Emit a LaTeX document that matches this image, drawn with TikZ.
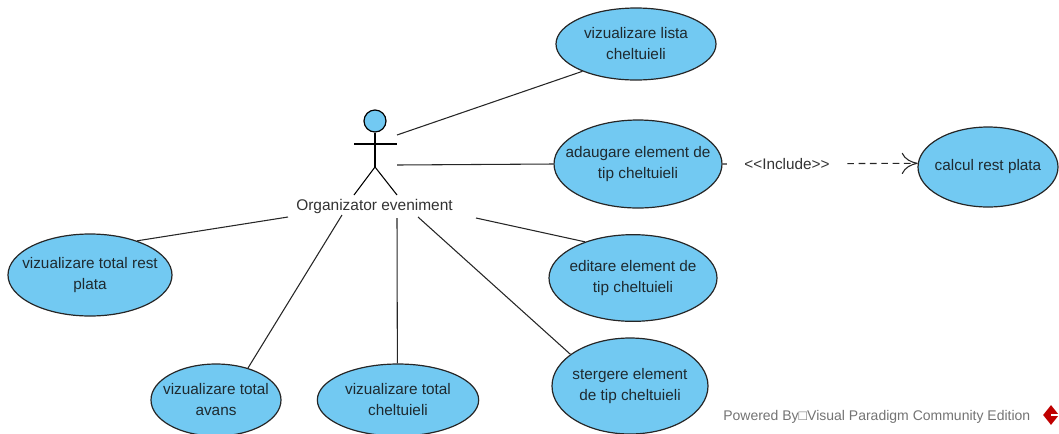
\documentclass[tikz,border=0pt]{standalone}
\usepackage{fontspec}
\setmainfont{Liberation Sans}
\usetikzlibrary{arrows.meta,shapes.geometric}
\definecolor{usefill}{HTML}{72C9F2}
\definecolor{usetext}{HTML}{1E2A30}
\tikzset{usecase/.style={shape=ellipse,draw=black!85,fill=usefill,line width=0.9pt,inner sep=-20pt,
        text=usetext,font=\fontsize{11.5}{15.75}\selectfont,align=center},
        assoc/.style={draw=black!85,line width=0.8pt},
        stick/.style={draw=black,line width=0.8pt}}
\begin{document}
\begin{tikzpicture}[x=0.75pt,y=-0.75pt]
\useasboundingbox (0,0) rectangle (1059,433);
\clip (0,0) rectangle (1059,433);
% use cases
\node[usecase,minimum width=120pt,minimum height=54pt] (lista) at (636,44) {vizualizare lista\\cheltuieli};
\node[usecase,minimum width=126pt,minimum height=66pt] (adaugare) at (638,164) {adaugare element de\\tip cheltuieli};
\node[usecase,minimum width=105pt,minimum height=60pt] (calcul) at (988,167) {calcul rest plata};
\node[usecase,minimum width=126pt,minimum height=65pt] (editare) at (633,278) {editare element de\\tip cheltuieli};
\node[usecase,minimum width=117pt,minimum height=72pt] (stergere) at (630,386) {stergere element\\de tip cheltuieli};
\node[usecase,minimum width=121pt,minimum height=54pt] (total) at (398,400) {vizualizare total\\cheltuieli};
\node[usecase,minimum width=97.5pt,minimum height=54pt] (avans) at (216,400) {vizualizare total\\avans};
\node[usecase,minimum width=123pt,minimum height=61.5pt] (rest) at (90,275) {vizualizare total rest\\plata};
% actor
\node[shape=circle,draw=black,fill=usefill,line width=0.9pt,minimum size=16.5pt,inner sep=0pt] (head) at (375,121) {};
\coordinate (hip) at (375,167);
\coordinate (armL) at (354,144);
\coordinate (armR) at (397,144);
\coordinate (footL) at (354,195);
\coordinate (footR) at (397,195);
\draw[stick] (head) -- (hip);
\draw[stick] (armL) -- (armR);
\draw[stick] (footL) -- (hip) -- (footR);
\node[text=black!80,font=\fontsize{11.6}{14}\selectfont] (actor) at (374.5,206) {Organizator eveniment};
% associations
\coordinate (a1) at (397,135);
\coordinate (a2) at (397,165);
\coordinate (a3) at (476,218);
\coordinate (a4) at (418,217);
\coordinate (a5) at (397,218);
\coordinate (a6) at (342,215);
\coordinate (a7) at (288,217);
\draw[assoc] (a1) -- (lista.207);
\draw[assoc] (a2) -- (adaugare.west);
\draw[assoc] (a3) -- (editare.143);
\draw[assoc] (a4) -- (stergere.152);
\draw[assoc] (a5) -- (total.91);
\draw[assoc] (a6) -- (avans.45);
\draw[assoc] (a7) -- (rest.36);
% include
\draw[draw=black!85,line width=0.8pt,dash pattern=on 5pt off 3.5pt,-{To[length=12pt,width=16pt]}] (adaugare.east) -- (calcul.177)
  node[pos=0.33,fill=white,text=black!80,inner xsep=13pt,inner ysep=1pt,font=\fontsize{11.5}{14}\selectfont] (include) {<{}<Include>{}>};
% watermark
\node[anchor=west,inner sep=0pt,text=black!55,font=\fontsize{10.5}{12}\selectfont] (powered) at (723,417) {Powered By□Visual Paradigm Community Edition};
\node[shape=diamond,fill=red!75!black,minimum width=12pt,minimum height=15pt,inner sep=0pt] (logo) at (1051,415) {};
\draw[white,line width=1.2pt] (logo.center) -- (logo.east);
\end{tikzpicture}
\end{document}
